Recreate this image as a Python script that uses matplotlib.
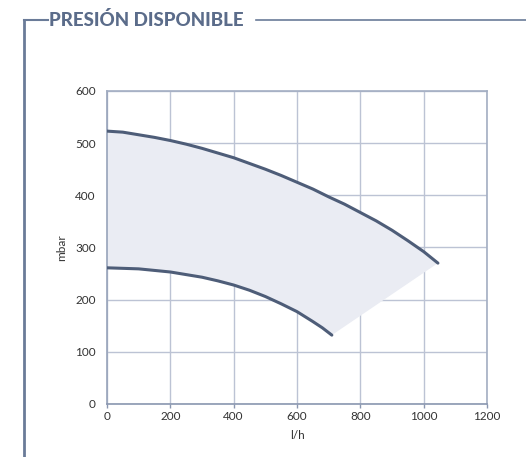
#!/usr/bin/env python3
"""
Presion disponible: available pressure curves (mbar vs l/h)
"""
import matplotlib
matplotlib.use('Agg')
import matplotlib.pyplot as plt
from matplotlib.lines import Line2D

# upper curve (max speed)
upper_flow = [0, 50, 100, 150, 200, 250, 300, 350, 400, 450, 500, 550,
              600, 650, 700, 750, 800, 850, 900, 950, 1000, 1045]
upper_mbar = [523, 521, 516, 511, 505, 498, 490, 481, 472, 461, 450, 438,
              425, 412, 397, 383, 367, 351, 333, 313, 292, 270]

# lower curve (min speed)
lower_flow = [0, 50, 100, 150, 200, 250, 300, 350, 400, 450, 500, 550,
              600, 650, 680, 710]
lower_mbar = [261, 260, 259, 256, 253, 248, 243, 236, 228, 218, 206, 192,
              177, 158, 146, 132]

x_ticks = [0, 200, 400, 600, 800, 1000, 1200]
y_ticks = [0, 100, 200, 300, 400, 500, 600]

title = 'PRESIÓN DISPONIBLE'
curve_color = '#4e5d78'
fill_color = '#eaecf3'
grid_color = '#bcc3d4'
frame_color = '#6a7b98'


def main():
    plt.rcParams['font.family'] = ['Lato', 'DejaVu Sans']
    fig = plt.figure(figsize=(5.26, 4.57), dpi=100)
    ax = fig.add_axes([0.2034, 0.116, 0.7225, 0.685])

    # shaded operating area: upper curve, then lower curve backwards
    poly_x = list(upper_flow) + list(lower_flow[::-1])
    poly_y = list(upper_mbar) + list(lower_mbar[::-1])
    ax.fill(poly_x, poly_y, color=fill_color, lw=0, zorder=1)

    for fx, fy in [(upper_flow, upper_mbar), (lower_flow, lower_mbar)]:
        ax.plot(fx, fy, color=curve_color, lw=2.2, solid_capstyle='round',
                solid_joinstyle='round', zorder=3)

    ax.set_xlim(0, 1200)
    ax.set_ylim(0, 600)
    ax.set_xticks(x_ticks)
    ax.set_yticks(y_ticks)
    ax.grid(True, color=grid_color, lw=1, zorder=0)
    ax.set_axisbelow(True)
    for s in ax.spines.values():
        s.set_color('#a3aec2')
        s.set_linewidth(1.2)
    ax.spines['left'].set_color('#97a3ba')
    ax.spines['bottom'].set_color('#8a97b0')
    ax.tick_params(axis='both', labelsize=8.5, colors='#333333',
                   length=3, width=1, color='#8a97b0')
    ax.tick_params(axis='y', length=0, pad=8)
    ax.tick_params(axis='x', pad=2)
    ax.set_xlabel('l/h', fontsize=8.5, color='#333333', labelpad=6)
    ax.set_ylabel('mbar', fontsize=8.5, color='#333333', labelpad=6)

    # header frame with title
    fig.add_artist(Line2D([24 / 526, 24 / 526], [0, 1 - 20 / 457],
                          transform=fig.transFigure, color=frame_color, lw=2))
    fig.add_artist(Line2D([24 / 526, 48 / 526], [1 - 20 / 457, 1 - 20 / 457],
                          transform=fig.transFigure, color=frame_color, lw=1.5))
    fig.add_artist(Line2D([256 / 526, 1], [1 - 20 / 457, 1 - 20 / 457],
                          transform=fig.transFigure, color=frame_color, lw=1.2))
    fig.text(49 / 526, 1 - 20 / 457, title, fontsize=13.5, fontweight='black',
             color='#5b6c8a', va='center', ha='left')

    plt.savefig('out.png', dpi=100, facecolor='white')
    plt.close()


if __name__ == '__main__':
    main()
